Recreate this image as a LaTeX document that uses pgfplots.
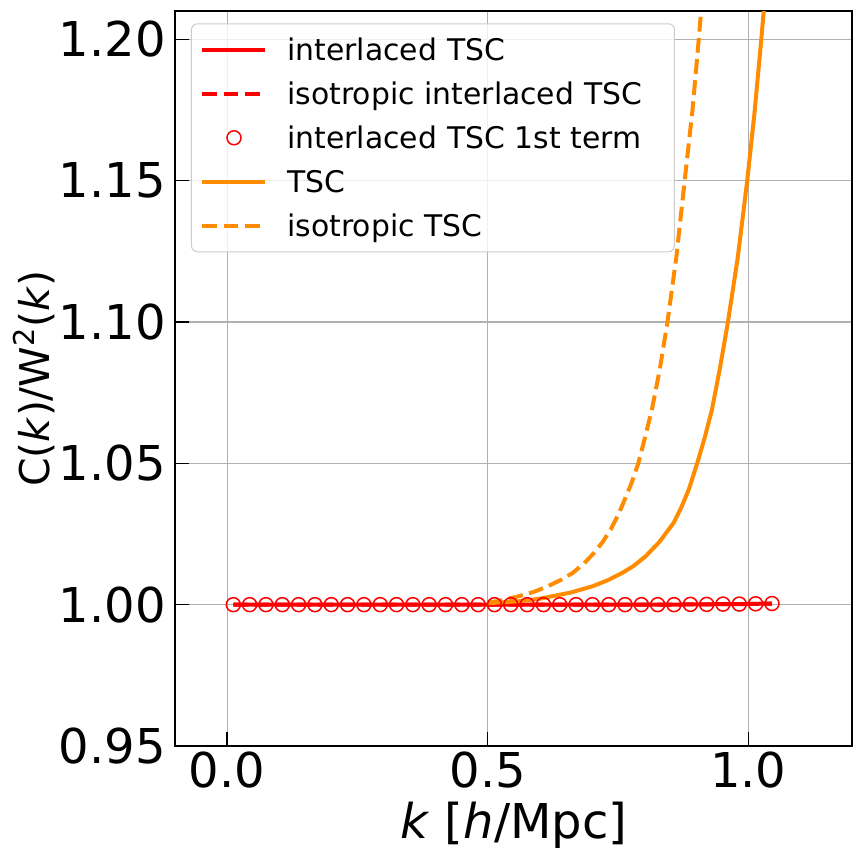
\documentclass[border=0pt]{standalone}
\usepackage{fontspec}
\setmainfont{DejaVu Sans}
\usepackage{pgfplots}
\pgfplotsset{compat=1.18}
\definecolor{tscred}{HTML}{FF0000}
\definecolor{tscorange}{HTML}{FF8C00}
\definecolor{gridgray}{HTML}{B0B0B0}
\definecolor{legendframe}{HTML}{CCCCCC}

% circle positions of the interlaced estimate
\pgfplotstableread{
k y
0.0119 1.0000
0.0432 1.0000
0.0745 1.0000
0.1059 1.0000
0.1372 1.0000
0.1685 1.0000
0.1998 1.0000
0.2311 1.0000
0.2625 1.0000
0.2938 1.0000
0.3251 1.0000
0.3564 1.0000
0.3877 1.0000
0.4191 1.0000
0.4504 1.0000
0.4817 1.0000
0.5130 1.0000
0.5443 1.0000
0.5757 1.0000
0.6070 1.0000
0.6383 1.0000
0.6696 1.0000
0.7009 1.0000
0.7323 1.0000
0.7636 1.0000
0.7949 1.0000
0.8262 1.0000
0.8575 1.0000
0.8889 1.0001
0.9202 1.0001
0.9515 1.0002
0.9828 1.0002
1.0141 1.0003
1.0455 1.0004
}\interlaced

\pgfplotstableread{
k y
0.500 1.0005
0.560 1.0012
0.600 1.0021
0.624 1.0030
0.660 1.0043
0.701 1.0065
0.730 1.0086
0.758 1.0112
0.780 1.0137
0.803 1.0171
0.830 1.0223
0.857 1.0290
0.872 1.0346
0.886 1.0408
0.902 1.0500
0.916 1.0588
0.930 1.0687
0.946 1.0840
0.961 1.1000
0.980 1.1230
0.998 1.1500
1.012 1.1740
1.025 1.2000
1.030 1.2106
1.035 1.2220
}\tsc

\pgfplotstableread{
k y
0.500 1.0008
0.522 1.0013
0.560 1.0030
0.590 1.0046
0.615 1.0065
0.640 1.0087
0.663 1.0112
0.685 1.0146
0.704 1.0183
0.720 1.0220
0.736 1.0266
0.750 1.0316
0.763 1.0372
0.776 1.0430
0.789 1.0500
0.801 1.0585
0.815 1.0689
0.830 1.0830
0.845 1.1000
0.862 1.1230
0.878 1.1500
0.893 1.1750
0.905 1.2000
0.910 1.2110
0.915 1.2250
}\isotsc

\begin{document}
\begin{tikzpicture}
\begin{axis}[
  at={(0,0)}, anchor=south west,
  scale only axis, width=338.75pt, height=367.5pt,
  xmin=-0.1, xmax=1.2, ymin=0.95, ymax=1.21,
  xtick={0,0.5,1}, ytick={0.95,1,1.05,1.1,1.15,1.2},
  tick align=inside, xtick pos=bottom, ytick pos=left,
  major tick length=7pt,
  every tick/.style={black, line width=0.75pt},
  axis line style={line width=1pt},
  grid=major, grid style={gridgray, line width=0.55pt},
  /pgf/number format/assume math mode=true,
  tick label style={font=\fontsize{24}{28}\selectfont},
  xticklabel style={inner sep=0pt, anchor=north, yshift=-2.8pt,
    /pgf/number format/.cd, fixed, fixed zerofill, precision=1},
  yticklabel style={inner sep=0pt, anchor=east, xshift=-4.5pt,
    /pgf/number format/.cd, fixed, fixed zerofill, precision=2},
  xlabel={\textit{k} [\textit{h}/Mpc]},
  ylabel={C(\textit{k})/W\textsuperscript{2}(\textit{k})},
  xlabel style={font=\fontsize{24}{28}\selectfont,
    at={(axis description cs:0.5,-0.1075)}, anchor=center},
  ylabel style={font=\fontsize{20.5}{24}\selectfont,
    at={(axis description cs:-0.2081,0.5)}, anchor=center, rotate=0},
  legend cell align=left,
  legend style={at={(axis description cs:0.0236,0.9833)}, anchor=north west,
    draw=legendframe, line width=0.5pt, fill=white, fill opacity=0.8,
    text opacity=1, rounded corners=3pt,
    font=\fontsize{14.9}{18}\selectfont,
    inner xsep=4.5pt, inner ysep=2pt, row sep=0pt, column sep=10pt,
    nodes={inner sep=0pt, text height=16.4pt, text depth=5.6pt,
      text width=189pt, align=left}},
  legend image code/.code={\draw plot coordinates {(0pt,0pt) (31.5pt,0pt)};},
]
\addplot[tscred, line width=2pt] table[x=k, y=y] {\interlaced};
\addlegendentry{interlaced TSC}
\addplot[tscred, line width=2pt, dash pattern=on 7.4pt off 3.2pt]
  table[x=k, y=y] {\interlaced};
\addlegendentry{isotropic interlaced TSC}
\addplot[tscred, only marks, mark=o, mark size=3.5pt,
  mark options={line width=0.75pt, solid},
  legend image code/.code={\draw plot coordinates {(15.75pt,0pt)};}]
  table[x=k, y=y] {\interlaced};
\addlegendentry{interlaced TSC 1st term}
\addplot[tscorange, line width=2pt] table[x=k, y=y] {\tsc};
\addlegendentry{TSC}
\addplot[tscorange, line width=2pt, dash pattern=on 7.4pt off 3.2pt]
  table[x=k, y=y] {\isotsc};
\addlegendentry{isotropic TSC}
\end{axis}
\pgfresetboundingbox
\path[use as bounding box] (-87.5pt,-59pt) rectangle (344.5pt,373pt);
\end{tikzpicture}
\end{document}
